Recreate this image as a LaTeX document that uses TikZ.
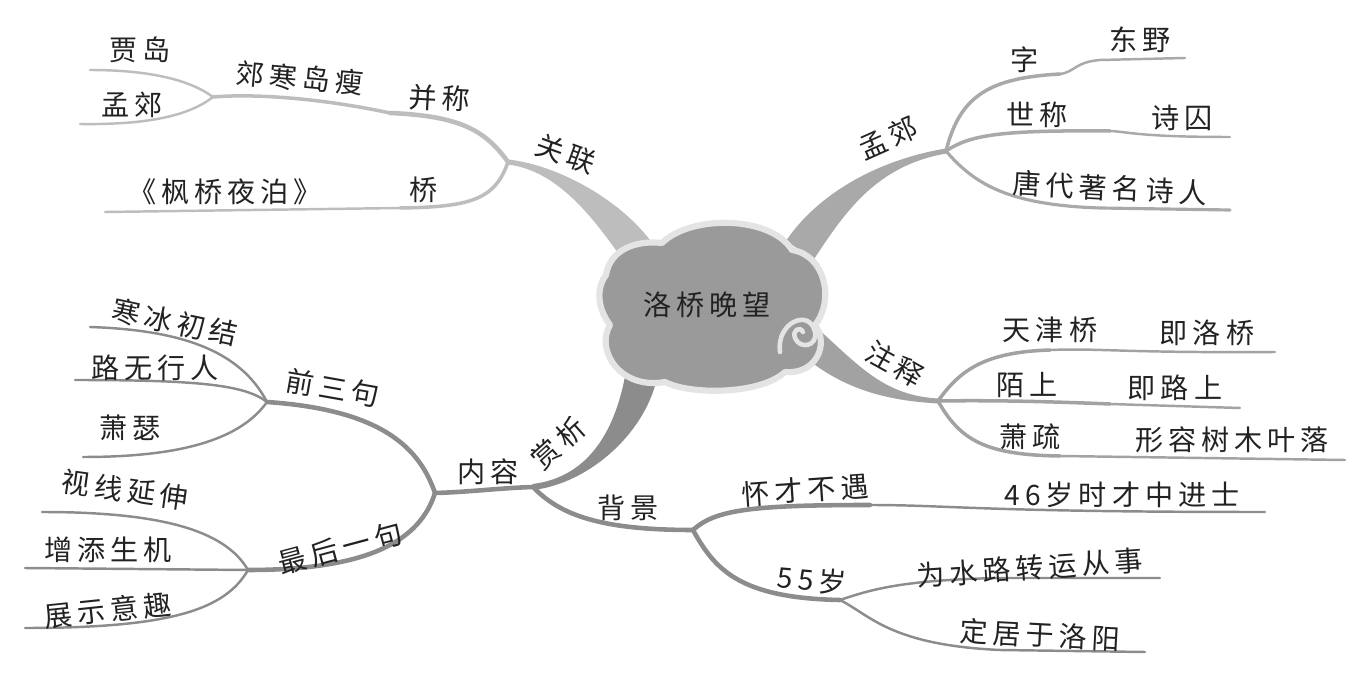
\documentclass[tikz,border=0pt]{standalone}
\usepackage{fontspec}
\newfontfamily\cjk[LetterSpace=18]{Noto Sans CJK SC}
\usetikzlibrary{calc}
\definecolor{inkgray}{HTML}{222222}
\definecolor{glgray}{HTML}{BDBDBD}
\definecolor{mjgray}{HTML}{A9A9A9}
\definecolor{zsgray}{HTML}{A2A2A2}
\definecolor{sxgray}{HTML}{8C8C8C}
\definecolor{cloudfill}{HTML}{9A9A9A}
\definecolor{cloudrim}{HTML}{E4E4E4}
% tapered branch: colour, start, control 1, control 2, end, half-width at start, half-width at end
\newcommand{\taper}[7]{%
  \fill[#1] ($(#2)+(#6)$) .. controls ($(#3)+(#6)$) and ($(#4)+(#7)$) .. ($(#5)+(#7)$)
    -- ($(#5)-(#7)$) .. controls ($(#4)-(#7)$) and ($(#3)-(#6)$) .. ($(#2)-(#6)$) -- cycle;}

\begin{document}
\begin{tikzpicture}[
    x=0.02cm, y=-0.02cm,
    lbl/.style={font=\cjk\fontsize{16}{18}\selectfont, text=inkgray, inner sep=1pt},
    leaf/.style={line width=1.4pt, line cap=round},
    twig/.style={line width=2.6pt, line cap=round},
  ]
  \useasboundingbox (0,0) rectangle (1363,675);

  % junctions
  \coordinate (gl) at (508,162);
  \coordinate (jd) at (213,97);
  \coordinate (bc) at (390,113);
  \coordinate (mj) at (946,151);
  \coordinate (zj) at (938,401);
  \coordinate (sj) at (533,487);
  \coordinate (nj) at (435,493);
  \coordinate (bj) at (693,530);
  \coordinate (qj) at (267,402);
  \coordinate (hj) at (248,570);
  \coordinate (wj) at (840,600);
  % cloud roots
  \coordinate (r-gl) at (640,255);
  \coordinate (r-mj) at (800,250);
  \coordinate (r-zs) at (808,340);
  \coordinate (r-sx) at (642,372);

  % main branches
  \taper{glgray}{r-gl}{610,212}{560,168}{gl}{13.6,-10}{0.4,-2.5}
  \taper{mjgray}{r-mj}{830,205}{875,163}{mj}{14,9}{0.4,2.5}
  \taper{zsgray}{r-zs}{850,378}{885,398}{zj}{-10.6,10.6}{0,2.5}
  \taper{sxgray}{r-sx}{632,430}{590,480}{sj}{-16,-1}{-0.4,-3}

  % top left
  \begin{scope}[draw=glgray]
    \draw[twig] (gl) .. controls (485,130) and (460,116) .. (bc);
    \draw[twig, line width=2pt] (bc) .. controls (330,100) and (260,93) .. (jd);
    \draw[leaf] (jd) .. controls (190,80) and (150,70) .. (90,70);
    \draw[leaf] (jd) .. controls (190,115) and (150,125) .. (80,124);
    \draw[twig, line width=2pt] (gl) .. controls (495,200) and (470,207) .. (400,208) coordinate (q1);
    \draw[leaf] (q1) -- (105,212);
  \end{scope}
  % top right
  \begin{scope}[draw=mjgray]
    \draw[twig, line width=2pt] (mj) .. controls (960,95) and (990,78) .. (1060,74) coordinate (q2);
    \draw[leaf] (q2) .. controls (1075,72) and (1075,62) .. (1100,60) -- (1185,58);
    \draw[twig, line width=2pt] (mj) .. controls (970,135) and (1000,130) .. (1110,131) coordinate (q3);
    \draw[leaf] (q3) .. controls (1130,132) and (1140,137) .. (1230,137);
    \draw[leaf, line width=1.8pt] (mj) .. controls (975,185) and (1010,205) .. (1100,208) -- (1230,210);
  \end{scope}
  % right middle
  \begin{scope}[draw=zsgray]
    \draw[twig, line width=2pt] (zj) .. controls (960,370) and (985,352) .. (1050,350) coordinate (q4);
    \draw[leaf] (q4) .. controls (1100,348) and (1120,353) .. (1275,352);
    \draw[twig, line width=2pt] (zj) .. controls (1000,400) and (1060,402) .. (1110,404) coordinate (q5);
    \draw[leaf] (q5) -- (1240,408);
    \draw[twig, line width=2pt] (zj) .. controls (960,440) and (985,455) .. (1060,456) coordinate (q6);
    \draw[leaf] (q6) -- (1345,460);
  \end{scope}
  % bottom
  \begin{scope}[draw=sxgray]
    \draw[twig] (sj) .. controls (500,488) and (470,492) .. (nj);
    \draw[twig] (sj) .. controls (560,515) and (600,530) .. (bj);
    \draw[twig] (nj) .. controls (420,450) and (385,410) .. (qj);
    \draw[twig] (nj) .. controls (420,540) and (370,570) .. (hj);
    \draw[leaf] (qj) .. controls (240,350) and (180,330) .. (90,327);
    \draw[leaf] (qj) .. controls (245,385) and (200,380) .. (75,380);
    \draw[leaf] (qj) .. controls (240,440) and (180,457) .. (83,457);
    \draw[leaf] (hj) .. controls (225,530) and (160,512) .. (42,512);
    \draw[leaf] (hj) -- (25,568);
    \draw[leaf] (hj) .. controls (225,610) and (170,628) .. (25,628);
    \draw[twig] (bj) .. controls (715,510) and (750,505) .. (870,505) coordinate (q7);
    \draw[leaf] (q7) .. controls (950,505) and (980,512) .. (1265,512);
    \draw[twig] (bj) .. controls (715,570) and (740,598) .. (wj);
    \draw[leaf] (wj) .. controls (870,590) and (900,580) .. (1000,578) -- (1160,578);
    \draw[leaf] (wj) .. controls (870,615) and (890,645) .. (1000,650) -- (1145,652);
  \end{scope}

  % cloud
  \path[fill=cloudfill, draw=cloudrim, line width=3.5pt, line join=round]
    (606,275) .. controls (610,250) and (635,240) .. (662,243)
    .. controls (690,215) and (770,215) .. (792,250)
    .. controls (825,255) and (835,300) .. (815,325)
    .. controls (830,345) and (815,375) .. (785,372)
    .. controls (760,395) and (690,395) .. (665,382)
    .. controls (620,390) and (595,350) .. (610,325)
    .. controls (595,305) and (598,285) .. (606,275) -- cycle;
  \draw[cloudrim, line width=2.6pt, line cap=round]
    (780,352) .. controls (776,322) and (810,308) .. (815,332)
    .. controls (818,346) and (800,350) .. (795,338)
    .. controls (792,330) and (800,326) .. (803,332);
  \node[lbl] (title) at (707,305) {洛桥晚望};

  % labels
  \node[lbl, rotate=-20] (l-gl) at (566,154) {关联};
  \node[lbl, rotate=-3] (l-bc) at (440,98) {并称};
  \node[lbl, rotate=-5] (l-jh) at (300,78) {郊寒岛瘦};
  \node[lbl] (l-jd) at (140,50) {贾岛};
  \node[lbl] (l-mj2) at (132,105) {孟郊};
  \node[lbl] (l-qiao) at (424,190) {桥};
  \node[lbl] (l-fq) at (225,192) {《枫桥夜泊》};

  \node[lbl, rotate=24] (l-mj) at (888,138) {孟郊};
  \node[lbl] (l-zi) at (1025,60) {字};
  \node[lbl] (l-dy) at (1140,40) {东野};
  \node[lbl] (l-sc) at (1037,115) {世称};
  \node[lbl] (l-sq) at (1182,118) {诗囚};
  \node[lbl, rotate=-3] (l-td) at (1110,188) {唐代著名诗人};

  \node[lbl, rotate=-29] (l-zs) at (895,364) {注释};
  \node[lbl] (l-tj) at (1050,330) {天津桥};
  \node[lbl] (l-jl) at (1207,333) {即洛桥};
  \node[lbl] (l-ms) at (1027,385) {陌上};
  \node[lbl] (l-jls) at (1175,388) {即路上};
  \node[lbl] (l-xs) at (1030,437) {萧疏};
  \node[lbl] (l-xr) at (1232,440) {形容树木叶落};

  \node[lbl, rotate=42] (l-sx) at (558,443) {赏析};
  \node[lbl] (l-nr) at (488,472) {内容};
  \node[lbl] (l-bj) at (628,508) {背景};
  \node[lbl, rotate=-10] (l-qs) at (333,388) {前三句};
  \node[lbl, rotate=15] (l-zh) at (340,548) {最后一句};
  \node[lbl, rotate=-12] (l-hb) at (175,322) {寒冰初结};
  \node[lbl] (l-lw) at (155,368) {路无行人};
  \node[lbl] (l-xse) at (130,428) {萧瑟};
  \node[lbl, rotate=-8] (l-sy) at (125,490) {视线延伸};
  \node[lbl] (l-zt) at (108,550) {增添生机};
  \node[lbl, rotate=6] (l-zy) at (108,610) {展示意趣};
  \node[lbl, rotate=4] (l-hc) at (805,490) {怀才不遇};
  \node[lbl] (l-46) at (1122,495) {46岁时才中进士};
  \node[lbl, rotate=-5] (l-55) at (812,580) {55岁};
  \node[lbl, rotate=4] (l-ws) at (1030,568) {为水路转运从事};
  \node[lbl, rotate=-3] (l-dj) at (1040,635) {定居于洛阳};
\end{tikzpicture}
\end{document}
